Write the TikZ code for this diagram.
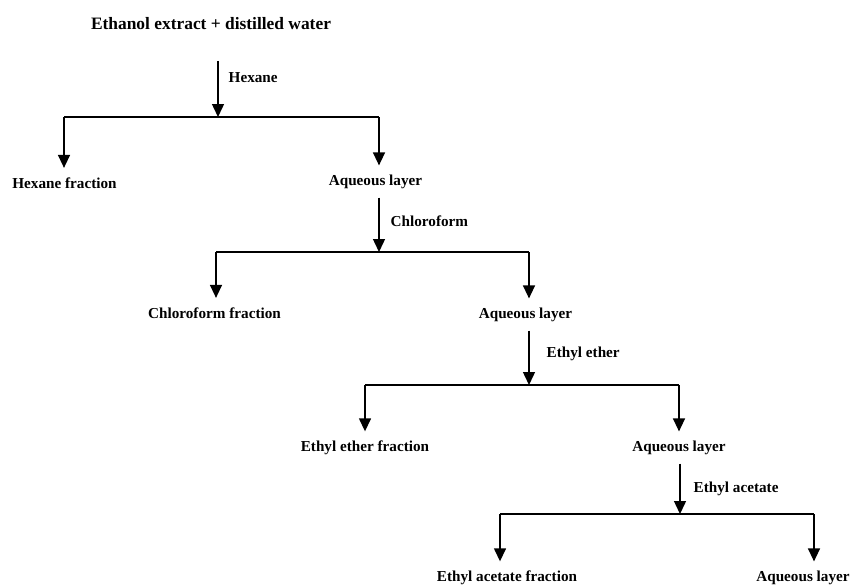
\documentclass[tikz,border=0pt]{standalone}
\usepackage{fontspec}
\setmainfont{Liberation Serif}
\usetikzlibrary{arrows.meta,positioning}

\begin{document}
\begin{tikzpicture}[x=1pt,y=-1pt,>={Triangle[width=12pt,length=13pt]},line width=1.4pt,
    lbl/.style={font=\bfseries\fontsize{15.2}{18}\selectfont,inner sep=0pt},
    solv/.style={lbl,anchor=west},
    down/.style={->,shorten >=9pt}]

            \useasboundingbox (0,0) rectangle (850,584);

            % products
            \node[lbl,font=\bfseries\fontsize{17.4}{20}\selectfont] (start) at (211,24) {Ethanol extract + distilled water};

            \node[lbl] (hexfrac) at (64.5,183) {Hexane fraction};

            \node[lbl] (aq1) at (375.5,182) {Aqueous layer};

            \node[lbl] (chlfrac) at (214.5,313) {Chloroform fraction};

            \node[lbl] (aq2) at (525.5,315) {Aqueous layer};

            \node[lbl] (ethfrac) at (365,448) {Ethyl ether fraction};

            \node[lbl] (aq3) at (679,448) {Aqueous layer};

            \node[lbl] (eafrac) at (507,578) {Ethyl acetate fraction};

            \node[lbl] (aq4) at (803,578) {Aqueous layer};

            % solvents
            \node[solv] (hex) at (228,78) {Hexane};

            \node[solv] (chl) at (390,221) {Chloroform};

            \node[solv] (eth) at (546,354) {Ethyl ether};

            \node[solv] (ea) at (693,489) {Ethyl acetate};

            % branch points
            \coordinate (s1) at (218,117);
            \coordinate (l1) at (64,117);
            \coordinate (r1) at (379,117);

            \coordinate (s2) at (379,252);
            \coordinate (l2) at (216,252);
            \coordinate (r2) at (529,252);

            \coordinate (s3) at (529,385);
            \coordinate (l3) at (365,385);
            \coordinate (r3) at (679,385);

            \coordinate (s4) at (680,514);
            \coordinate (l4) at (500,514);
            \coordinate (r4) at (814,514);

            \draw[->,shorten <=30pt] (start.south -| s1) -- (s1);
            \draw (l1) -- (r1);
            \draw[down] (l1) -- (l1 |- hexfrac.north);
            \draw[down] (r1) -- (r1 |- aq1.north);

            \draw[->,shorten <=8pt] (aq1.south -| s2) -- (s2);
            \draw (l2) -- (r2);
            \draw[down] (l2) -- (l2 |- chlfrac.north);
            \draw[down] (r2) -- (r2 |- aq2.north);

            \draw[->,shorten <=8pt] (aq2.south -| s3) -- (s3);
            \draw (l3) -- (r3);
            \draw[down] (l3) -- (l3 |- ethfrac.north);
            \draw[down] (r3) -- (r3 |- aq3.north);

            \draw[->,shorten <=8pt] (aq3.south -| s4) -- (s4);
            \draw (l4) -- (r4);
            \draw[down] (l4) -- (l4 |- eafrac.north);
            \draw[down] (r4) -- (r4 |- aq4.north);

\end{tikzpicture}
\end{document}
